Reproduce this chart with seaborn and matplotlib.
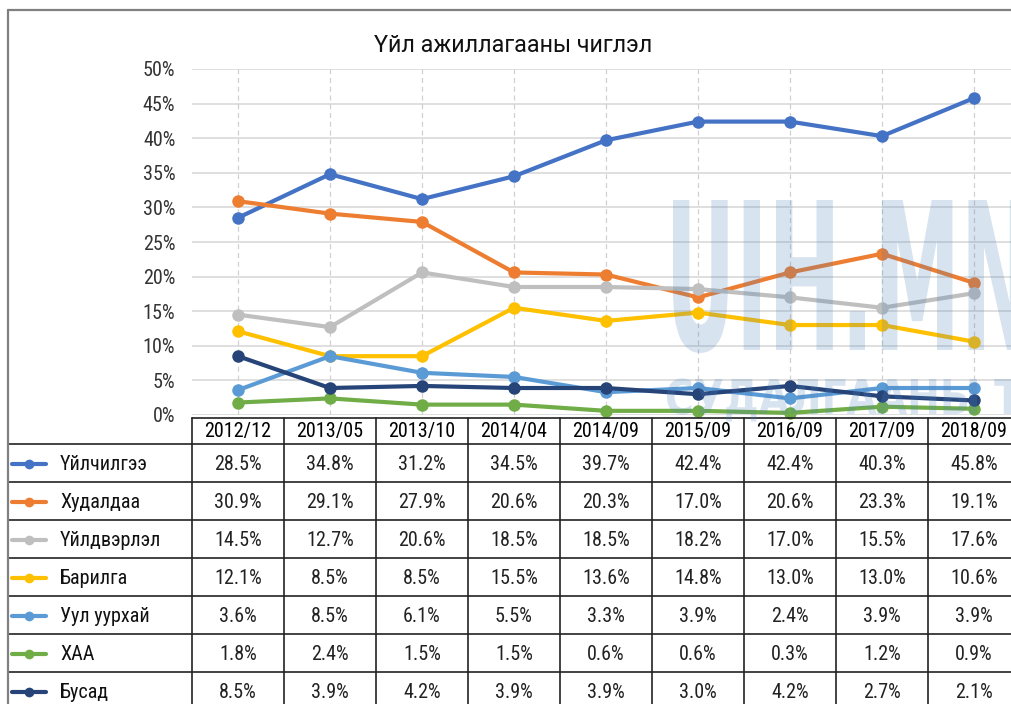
import matplotlib
matplotlib.use('Agg')
import matplotlib.pyplot as plt
from matplotlib import font_manager
from matplotlib.font_manager import FontProperties
from matplotlib.textpath import TextPath
from matplotlib.patches import PathPatch
from matplotlib.transforms import Affine2D
import seaborn as sns
import pandas as pd

# ── ДАТА ────────────────────────────────────────────────────────────────────
periods = ['2012/12', '2013/05', '2013/10', '2014/04', '2014/09',
           '2015/09', '2016/09', '2017/09', '2018/09']
series_names = ['Үйлчилгээ', 'Худалдаа', 'Үйлдвэрлэл', 'Барилга',
                'Уул уурхай', 'ХАА', 'Бусад']
uilchilgee = [28.5, 34.8, 31.2, 34.5, 39.7, 42.4, 42.4, 40.3, 45.8]
hudaldaa   = [30.9, 29.1, 27.9, 20.6, 20.3, 17.0, 20.6, 23.3, 19.1]
uildverlel = [14.5, 12.7, 20.6, 18.5, 18.5, 18.2, 17.0, 15.5, 17.6]
barilga    = [12.1, 8.5, 8.5, 15.5, 13.6, 14.8, 13.0, 13.0, 10.6]
uul_uurhai = [3.6, 8.5, 6.1, 5.5, 3.3, 3.9, 2.4, 3.9, 3.9]
haa        = [1.8, 2.4, 1.5, 1.5, 0.6, 0.6, 0.3, 1.2, 0.9]
busad      = [8.5, 3.9, 4.2, 3.9, 3.9, 3.0, 4.2, 2.7, 2.1]
y_ticks    = [0, 5, 10, 15, 20, 25, 30, 35, 40, 45, 50]

all_values = [uilchilgee, hudaldaa, uildverlel, barilga, uul_uurhai, haa, busad]
COLORS = ['#4472C4', '#ED7D31', '#BFBFBF', '#FFC000', '#5B9BD5', '#70AD47', '#264478']

rows = []
for name, vals in zip(series_names, all_values):
    for i, v in enumerate(vals):
        rows.append({'idx': i, 'period': periods[i], 'series': name, 'value': v})
df = pd.DataFrame(rows)


def pick(names, default='DejaVu Sans'):
    for n in names:
        try:
            font_manager.findfont(FontProperties(family=n), fallback_to_default=False)
            return n
        except ValueError:
            pass
    return default


sns.set_style('white')
NARROW = pick(['Roboto Condensed', 'Liberation Sans Narrow', 'Roboto'])
TITLE_FONT = pick(['Roboto', 'Noto Sans'])
plt.rcParams['font.family'] = [NARROW, 'DejaVu Sans']

W, H = 1012, 704
FS = 14.5
fig = plt.figure(figsize=(W / 100, H / 100), dpi=100)
fig.patch.set_facecolor('white')

# plot area in pixel coords: x 192..1020, y 69 (50%)..415 (0%)
ax = fig.add_axes([192 / W, (H - 415) / H, 828 / W, 346 / H])

sns.lineplot(data=df, x='idx', y='value', hue='series', hue_order=series_names,
             palette=COLORS, marker='o', markersize=9, markeredgewidth=0,
             linewidth=3, sort=False, legend=False, ax=ax, clip_on=False)

ax.set_xlim(-0.5, len(periods) - 0.5)
ax.set_ylim(0, 50)
ax.set_yticks(y_ticks)
ax.set_yticklabels([f'{t}%' for t in y_ticks], fontsize=FS, color='#333333')
ax.tick_params(axis='y', length=0, pad=12)
ax.set_xticks([])
ax.set_xlabel('')
ax.set_ylabel('')
for s in ax.spines.values():
    s.set_visible(False)
for t in y_ticks:
    ax.axhline(t, color='#d9d9d9', lw=1.2, zorder=0)
for i in range(len(periods)):
    ax.axvline(i, color='#d0d0d0', lw=0.9, ls=(0, (4, 3)), zorder=0)

# ── overlay: title, watermark, table, border ────────────────────────────────
ov = fig.add_axes([0, 0, 1, 1])
ov.set_xlim(0, W)
ov.set_ylim(H, 0)
ov.axis('off')
ov.patch.set_alpha(0)

ov.text(513, 46, 'Үйл ажиллагааны чиглэл', ha='center', va='center',
        fontsize=16.8, family=[TITLE_FONT, 'DejaVu Sans'], color='#111111')

# watermark
wm_prop = FontProperties(family='DejaVu Sans', weight='bold')
pre = TextPath((0, 0), 'UIH.', size=1, prop=wm_prop)
sx = 200 / pre.get_extents().x1
tp = TextPath((0, 0), 'UIH.MN', size=1, prop=wm_prop)
tr = Affine2D().scale(sx, -150 / 0.729).translate(665, 350)
ov.add_patch(PathPatch(tr.transform_path(tp), fc='#4f81bd', ec='none', alpha=0.22, zorder=5))
tp2 = TextPath((0, 0), 'СУДАЛГААНЫ ТӨВ', size=1, prop=wm_prop)
tr2 = Affine2D().scale(sx * 0.45, -35 / 0.729).translate(665, 414)
ov.add_patch(PathPatch(tr2.transform_path(tp2), fc='#4f81bd', ec='none', alpha=0.22, zorder=5))

# table
col_x0 = 192
col_w = 92
header_top, header_bot = 418, 444
row_h = 38
LC = '#222222'
ov.plot([col_x0, W], [header_top, header_top], color=LC, lw=1.2)
for k in range(len(series_names)):
    y = header_bot + k * row_h
    ov.plot([8, W], [y, y], color=LC, lw=1.2)
for i in range(len(periods)):
    x = col_x0 + i * col_w
    ov.plot([x, x], [header_top, H], color=LC, lw=1.2)
ov.plot([8, 8], [header_bot, H], color=LC, lw=1.2)

for i, p in enumerate(periods):
    cx = col_x0 + col_w / 2 + i * col_w
    ov.text(cx, (header_top + header_bot) / 2 + 1, p, ha='center', va='center',
            fontsize=FS, color='#000000')

for k, (name, vals) in enumerate(zip(series_names, all_values)):
    cy = header_bot + row_h / 2 + k * row_h + 1
    ov.plot([12, 46], [cy, cy], color=COLORS[k], lw=3, solid_capstyle='round')
    ov.plot([29], [cy], marker='o', color=COLORS[k], markersize=7, markeredgewidth=0)
    ov.text(60, cy, name, ha='left', va='center', fontsize=FS, color='#111111')
    for i, v in enumerate(vals):
        cx = col_x0 + col_w / 2 + i * col_w
        ov.text(cx, cy, f'{v:.1f}%', ha='center', va='center', fontsize=FS,
                color='#222222')

# outer border
ov.plot([8, 8], [10, H], color='#808080', lw=1.6)
ov.plot([8, W], [10, 10], color='#808080', lw=1.6)

fig.savefig('out.png', dpi=100, facecolor='white')
